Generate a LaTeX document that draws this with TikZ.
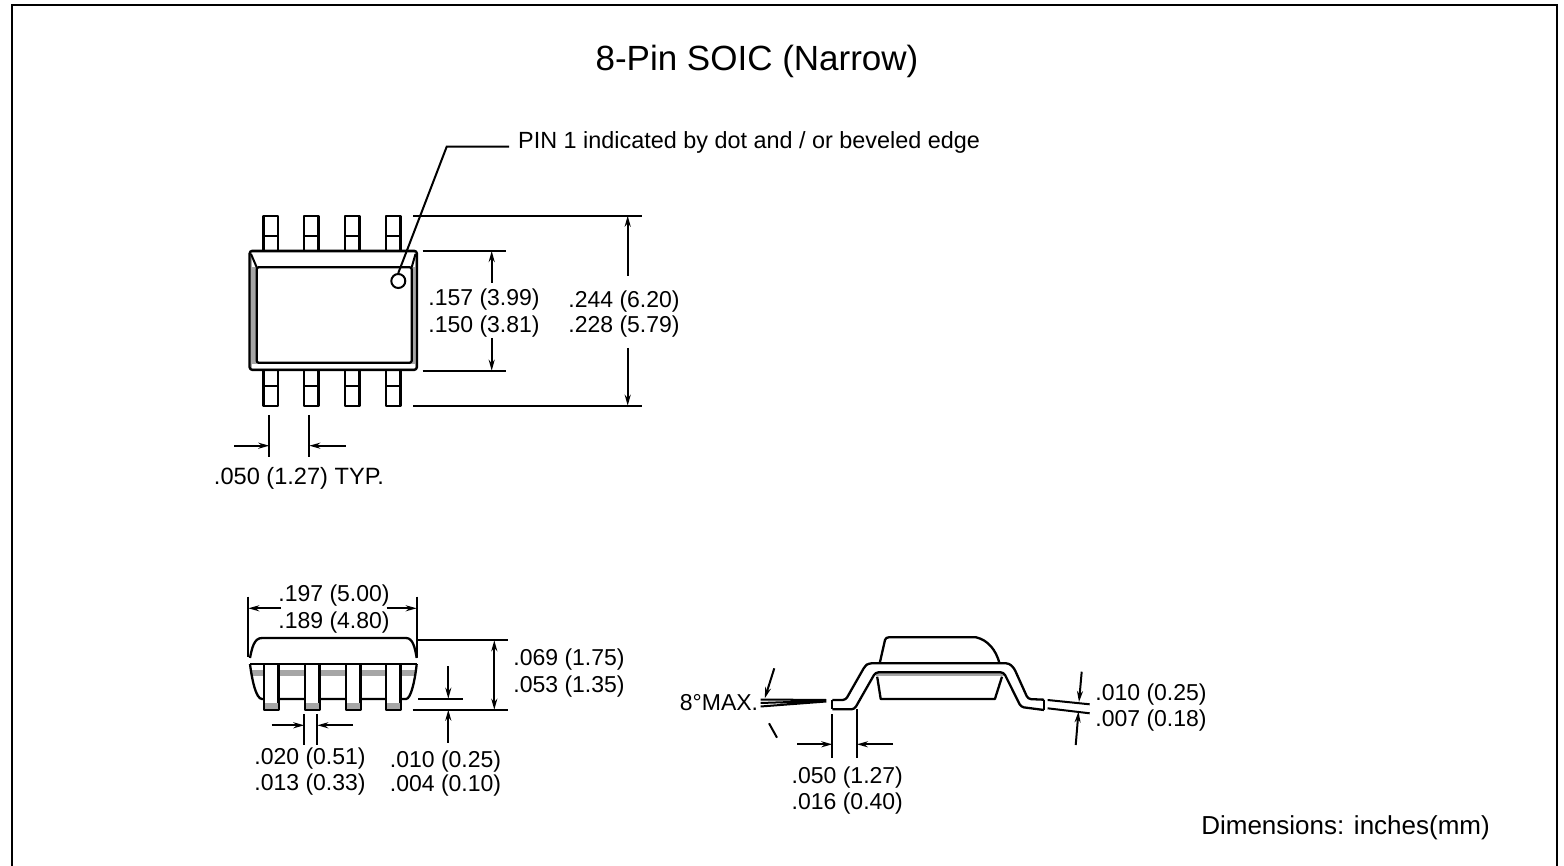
\documentclass[tikz,border=0pt]{standalone}
\usepackage{fontspec}
\setmainfont{Liberation Sans}
\usetikzlibrary{arrows.meta}

\begin{document}
\begin{tikzpicture}[x=1pt,y=-1pt,
		part/.style={line width=2.3pt,line join=round},
		thin part/.style={line width=2pt,line join=round},
		dimline/.style={line width=2pt},
		dimarrow/.style={line width=2pt,-{Stealth[length=11pt,width=6pt]}},
		dimtext/.style={inner sep=0pt,yshift=-2.5pt,font=\fontsize{23}{26}\selectfont},
		bandfill/.style={fill=black!35,draw=none}]
	\useasboundingbox (0,0) rectangle (1564,866);
	\draw[line width=2.2pt] (12,866) -- (12,5) -- (1557,5) -- (1557,866);
	\node[inner sep=0pt,yshift=-3pt,font=\fontsize{35}{40}\selectfont] (title) at (757,58) {8-Pin SOIC (Narrow)};
	\node[dimtext,anchor=west,font=\fontsize{23.4}{26}\selectfont] (pinlabel) at (518,140) {PIN 1 indicated by dot and / or beveled edge};
	\node[dimtext,anchor=east,font=\fontsize{26}{28}\selectfont] (units) at (1490,825) {Dimensions: inches(mm)};

	\foreach \px in {263.5,304,345,386}{
		\draw[part] (\px,250) |- (\px+14.5,215.7) -- (\px+14.5,250);
		\draw[thin part] (\px,235.7) -- (\px+14.5,235.7);
		\draw[part] (\px,371) |- (\px+14.5,406) -- (\px+14.5,371);
		\draw[thin part] (\px,385.7) -- (\px+14.5,385.7);
	}
	\path[bandfill,rounded corners=3pt] (249.5,250.7) rectangle (417,370);
	\fill[white] (252,253) rectangle (414.5,267);
	\fill[white] (252,364) rectangle (414.5,368);
	\draw[part,rounded corners=3pt] (249.5,250.7) rectangle (417,370);
	\draw[part,fill=white,rounded corners=2pt] (256.7,267.3) rectangle (411.7,362.7);
	\draw[thin part] (251,254) -- (256.7,267.3) (415.5,254) -- (411.7,267.3);
	\node[draw,circle,line width=2pt,fill=white,minimum size=14pt,inner sep=0pt] (pindot) at (398.3,281) {};
	\draw[line width=2pt] (pinlabel.west) ++(-9,4.2) -- (446.7,146.7) -- (pindot.north);

	\draw[dimline] (413,215.7) -- (641.7,215.7) (413,405.7) -- (641.7,405.7);
	\draw[dimline] (422.7,251) -- (505.7,251) (422.7,370.7) -- (505.7,370.7);
	\draw[dimarrow] (627.7,276) -- (627.7,215.7);
	\draw[dimarrow] (627.7,348) -- (627.7,405.7);
	\draw[dimarrow] (491.7,283) -- (491.7,251);
	\draw[dimarrow] (491.7,338) -- (491.7,370.7);
	\node[dimtext] (widemax) at (484,297) {.157 (3.99)};
	\node[dimtext] (widemin) at (484,324) {.150 (3.81)};
	\node[dimtext] (spanmax) at (624,299) {.244 (6.20)};
	\node[dimtext] (spanmin) at (624,324) {.228 (5.79)};

	\draw[dimline] (269.3,415) -- (269.3,457) (309.3,415) -- (309.3,457);
	\draw[dimarrow] (234,445.7) -- (269.3,445.7);
	\draw[dimarrow] (345.7,445.7) -- (309.3,445.7);
	\node[dimtext,font=\fontsize{23.6}{26}\selectfont] (pitch) at (299,476) {.050 (1.27) TYP.};

	\path[bandfill] (252,670) rectangle (415,676);
	\draw[part] (250,658) .. controls (252,648) and (254,638) .. (262,638) -- (406,638) .. controls (413,638) and (415,648) .. (416.7,658);
	\draw[part] (250,664) -- (416.7,664);
	\draw[part] (250,664) .. controls (252,680) and (256,699) .. (262,699) -- (406,699) .. controls (411,699) and (415,680) .. (416.7,664);
	\foreach \px in {264,305,346,386}{
		\draw[part,fill=white] (\px,664) rectangle (\px+14.5,710);
		\fill[black!35] (\px+1,703) rectangle (\px+13.5,709);
	}
	\draw[dimline] (248.3,596.7) -- (248.3,657) (416.7,596.7) -- (416.7,657);
	\draw[dimarrow] (281,608.3) -- (248.3,608.3);
	\draw[dimarrow] (386.7,608.3) -- (416.7,608.3);
	\node[dimtext] (lenmax) at (334,593) {.197 (5.00)};
	\node[dimtext] (lenmin) at (334,620) {.189 (4.80)};

	\draw[dimline] (417,640.3) -- (508.3,640.3) (412.7,709.7) -- (508.3,709.7) (418,698.7) -- (462.7,698.7);
	\draw[dimline,{Stealth[length=11pt,width=6pt]}-{Stealth[length=11pt,width=6pt]}] (494.3,640.3) -- (494.3,709.7);
	\draw[dimarrow] (448.3,666) -- (448.3,698.7);
	\draw[dimarrow] (448.3,742.7) -- (448.3,709.7);
	\node[dimtext] (highmax) at (569,657) {.069 (1.75)};
	\node[dimtext] (highmin) at (569,684) {.053 (1.35)};

	\draw[dimline] (304.3,714) -- (304.3,745) (317.3,714) -- (317.3,745);
	\draw[dimarrow] (271.7,725.3) -- (304.3,725.3);
	\draw[dimarrow] (353,725.3) -- (317.3,725.3);
	\node[dimtext] (leadmax) at (310,756) {.020 (0.51)};
	\node[dimtext] (leadmin) at (310,782) {.013 (0.33)};
	\node[dimtext] (gapmax) at (445.5,759) {.010 (0.25)};
	\node[dimtext] (gapmin) at (445.5,783) {.004 (0.10)};

	\draw[part] (879.7,663.3) -- (885,640) .. controls (885.5,638) and (887,637.3) .. (889,637.3) -- (976,637.3) .. controls (988,640) and (996,650) .. (999.5,663.3);
	\draw[part] (877.2,676.7) -- (880.7,699) -- (994.9,699) -- (1002,676.7);
	\path[bandfill] (875.5,672.3) rectangle (1003.7,676);
	\draw[part,rounded corners=3pt] (832.3,700) -- (845.6,700) -- (865,666) -- (868.5,663.3) -- (1009,663.3) -- (1014,668) -- (1028,699) -- (1044,699.7);
	\draw[part,rounded corners=3pt] (832.3,709.3) -- (854.4,709.3) -- (875.5,672.3) -- (1003.7,672.3) -- (1021,707) -- (1044,710);
	\draw[part] (832.3,700) -- (832.3,709.3) (1044,699.7) -- (1044,710);

	\node[dimtext] (tilt) at (719,700) {8°MAX.};
	\draw[dimline] (760.6,699.5) -- (826.3,700) (760.6,706.5) -- (826.3,701.5) (760.6,703) -- (826.3,700.8);
	\draw[dimarrow] (774.3,668.3) -- (764.8,698.3);
	\draw[dimline] (769,723.3) -- (777,737.7);

	\draw[dimline] (832.3,714) -- (832.3,758.3) (856.9,709) -- (856.9,758.3);
	\draw[dimarrow] (797,744.3) -- (832.3,744.3);
	\draw[dimarrow] (893,744.3) -- (856.9,744.3);
	\node[dimtext] (footmax) at (847.3,775) {.050 (1.27)};
	\node[dimtext] (footmin) at (847.3,801) {.016 (0.40)};

	\draw[dimline] (1047.6,700) -- (1089.7,704.3) (1047.6,708.3) -- (1089.7,713.3);
	\draw[dimarrow] (1081.7,671.7) -- (1079,702);
	\draw[dimarrow] (1075.7,745) -- (1078.5,711.5);
	\node[dimtext] (thickmax) at (1151,692) {.010 (0.25)};
	\node[dimtext] (thickmin) at (1151,718) {.007 (0.18)};
\end{tikzpicture}
\end{document}
